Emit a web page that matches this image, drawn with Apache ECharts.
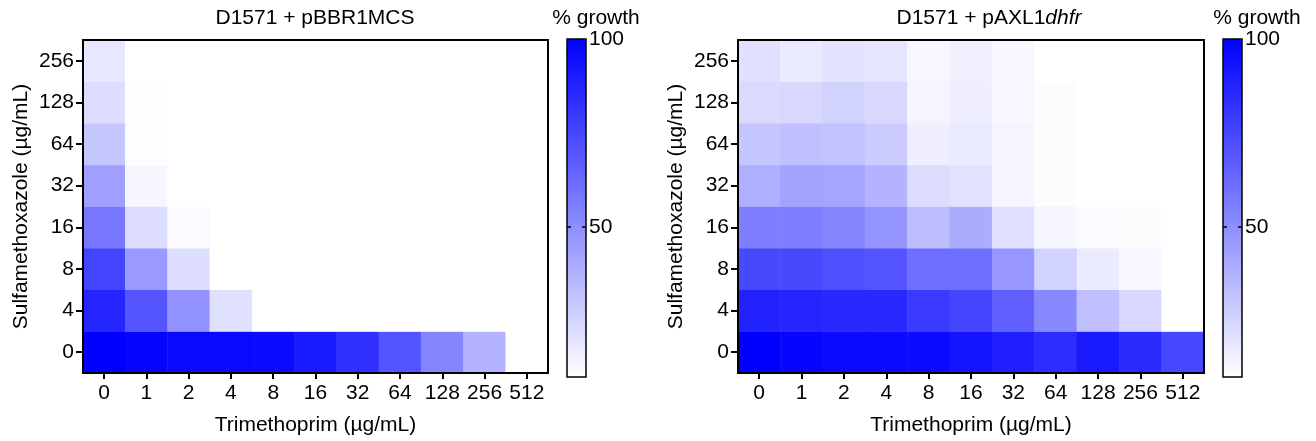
<!DOCTYPE html>
<html>
<head>
<meta charset="utf-8">
<script src="https://cdn.jsdelivr.net/npm/echarts@6/dist/echarts.min.js"></script>
<style>
html,body{margin:0;padding:0;background:#fff;}
#chart{width:1316px;height:441px;}
</style>
</head>
<body>
<div id="chart"></div>
<script>
// Trimethoprim concentrations (x) and sulfamethoxazole concentrations (y, bottom to top)
const xCats = ['0','1','2','4','8','16','32','64','128','256','512'];
const yCats = ['0','4','8','16','32','64','128','256'];
const colorTicks = [50, 100];
const colorMarks = [50];

// % growth, D1571 + pBBR1MCS; one array per sulfamethoxazole row (columns follow xCats)
const left_s0   = [100, 98, 97, 97, 96, 91, 83, 70, 53, 37, 0];
const left_s4   = [87, 70, 49, 21, 0, 0, 0, 0, 0, 0, 0];
const left_s8   = [76, 46, 22, 0, 0, 0, 0, 0, 0, 0, 0];
const left_s16  = [58, 22, 11.4, 0, 0, 0, 0, 0, 0, 0, 0];
const left_s32  = [44, 13.2, 0, 0, 0, 0, 0, 0, 0, 0, 0];
const left_s64  = [30, 10.7, 0, 0, 0, 0, 0, 0, 0, 0, 0];
const left_s128 = [22, 10.4, 0, 0, 0, 0, 0, 0, 0, 0, 0];
const left_s256 = [18.5, 0, 0, 0, 0, 0, 0, 0, 0, 0, 0];

// % growth, D1571 + pAXL1dhfr
const right_s0   = [100, 98, 96.5, 96.5, 96, 93, 89, 84, 91, 85, 75];
const right_s4   = [88, 87, 86, 86, 79.5, 75.6, 66, 52, 32.7, 24.2, 0];
const right_s8   = [74.6, 74.6, 71.8, 70, 61.2, 61.2, 46.7, 25.9, 17.1, 12.8, 0];
const right_s16  = [55.6, 55.6, 52.7, 47.5, 33.1, 39.4, 21.3, 13.5, 11.8, 11.1, 0];
const right_s32  = [38.3, 42.8, 41.8, 36.9, 22.4, 20.2, 13.5, 11.1, 0, 0, 0];
const right_s64  = [30.4, 32.7, 31.5, 28.4, 16, 17.8, 13.5, 11.1, 0, 0, 0];
const right_s128 = [23.1, 23.9, 25.9, 23.9, 13.5, 16, 12.8, 11.1, 0, 0, 0];
const right_s256 = [21, 17.1, 19.9, 19.2, 12.8, 15.3, 12.8, 0, 0, 0, 0];

const leftRows = [left_s0, left_s4, left_s8, left_s16, left_s32, left_s64, left_s128, left_s256];
const rightRows = [right_s0, right_s4, right_s8, right_s16, right_s32, right_s64, right_s128, right_s256];

function toCells(rows) {
  const out = [];
  rows.forEach((row, yi) => row.forEach((v, xi) => out.push([xi, yi, v])));
  return out;
}

const FONT = "'Liberation Sans', Arial, Helvetica, sans-serif";
const FS = 21;
const BAR_W = 19;

function heatX(gi) {
  return {
    type: 'category', gridIndex: gi, data: xCats, z: 10,
    axisLine: { show: true, lineStyle: { color: '#000', width: 2 } },
    axisTick: { show: true, alignWithLabel: true, length: 6, lineStyle: { color: '#000', width: 2 } },
    axisLabel: { color: '#000', fontSize: FS, fontFamily: FONT, margin: 10, interval: 0 },
    splitLine: { show: false },
    name: 'Trimethoprim (µg/mL)', nameLocation: 'middle', nameGap: 42,
    nameTextStyle: { color: '#000', fontSize: FS, fontFamily: FONT }
  };
}
function heatY(gi) {
  return {
    type: 'category', gridIndex: gi, data: yCats, z: 10,
    axisLine: { show: true, lineStyle: { color: '#000', width: 2 } },
    axisTick: { show: true, alignWithLabel: true, length: 7, lineStyle: { color: '#000', width: 2 } },
    axisLabel: { color: '#000', fontSize: FS, fontFamily: FONT, margin: 9, interval: 0 },
    splitLine: { show: false },
    name: 'Sulfamethoxazole (µg/mL)', nameLocation: 'middle', nameGap: 51,
    nameTextStyle: { color: '#000', fontSize: FS, fontFamily: FONT }
  };
}
function barAxes(gi) {
  const base = { type: 'value', gridIndex: gi, min: 10, max: 100, z: 10, axisLine: { show: false }, splitLine: { show: false } };
  const tick = { show: true, length: 4, customValues: colorMarks, lineStyle: { color: '#000', width: 1.5 } };
  return [
    // labels on the right of the bar
    Object.assign({}, base, { position: 'right', axisTick: { show: false },
      axisLabel: { color: '#000', fontSize: FS, fontFamily: FONT, margin: 3, customValues: colorTicks } }),
    // tick on the left edge, pointing into the bar
    Object.assign({}, base, { position: 'right', offset: -BAR_W, axisTick: tick, axisLabel: { show: false } }),
    // tick on the right edge, pointing into the bar
    Object.assign({}, base, { position: 'left', offset: -BAR_W, axisTick: tick, axisLabel: { show: false } })
  ];
}
function vmap(si, left) {
  return {
    type: 'continuous', seriesIndex: si, min: 10, max: 100, orient: 'vertical',
    left: left, top: 39, itemWidth: BAR_W, itemHeight: 338, calculable: false,
    text: null, showLabel: false, padding: 0, hoverLink: false, z: 1,
    inRange: { color: ['#FFFFFF', '#0000FF'] }
  };
}
const frame = { show: true, borderColor: '#000', borderWidth: 2, backgroundColor: 'transparent', z: 10 };
const barFrame = { show: true, borderColor: '#000', borderWidth: 1.5, backgroundColor: 'transparent', z: 10 };

const option = {
  animation: false,
  backgroundColor: '#fff',
  textStyle: { fontFamily: FONT },
  grid: [
    Object.assign({ left: 83, top: 40, width: 465, height: 337 }, frame),
    Object.assign({ left: 738, top: 40, width: 466, height: 337 }, frame),
    Object.assign({ left: 567, top: 39, width: BAR_W, height: 338 }, barFrame),
    Object.assign({ left: 1223, top: 39, width: BAR_W, height: 338 }, barFrame)
  ],
  xAxis: [
    heatX(0), heatX(1),
    { type: 'value', gridIndex: 2, show: false },
    { type: 'value', gridIndex: 3, show: false }
  ],
  yAxis: [heatY(0), heatY(1)].concat(barAxes(2), barAxes(3)),
  visualMap: [vmap(0, 567), vmap(1, 1223)],
  graphic: [
    { type: 'text', x: 315, y: 18, style: { text: 'D1571 + pBBR1MCS', font: FS + 'px ' + FONT, fill: '#000', textAlign: 'center', textVerticalAlign: 'middle' } },
    { type: 'text', x: 989, y: 18, style: {
        text: '{n|D1571 + pAXL1}{i|dhfr}', textAlign: 'center', textVerticalAlign: 'middle',
        rich: { n: { fontSize: FS, fontFamily: FONT, fill: '#000' }, i: { fontSize: FS, fontFamily: FONT, fontStyle: 'italic', fill: '#000' } }
    } },
    { type: 'text', x: 596, y: 18, style: { text: '% growth', font: FS + 'px ' + FONT, fill: '#000', textAlign: 'center', textVerticalAlign: 'middle' } },
    { type: 'text', x: 1257, y: 18, style: { text: '% growth', font: FS + 'px ' + FONT, fill: '#000', textAlign: 'center', textVerticalAlign: 'middle' } }
  ],
  series: [
    { type: 'heatmap', xAxisIndex: 0, yAxisIndex: 0, data: toCells(leftRows), itemStyle: { borderWidth: 0 }, emphasis: { disabled: true }, z: 2 },
    { type: 'heatmap', xAxisIndex: 1, yAxisIndex: 1, data: toCells(rightRows), itemStyle: { borderWidth: 0 }, emphasis: { disabled: true }, z: 2 }
  ]
};

const chart = echarts.init(document.getElementById('chart'), null, { renderer: 'canvas' });
chart.setOption(option);
</script>
</body>
</html>
